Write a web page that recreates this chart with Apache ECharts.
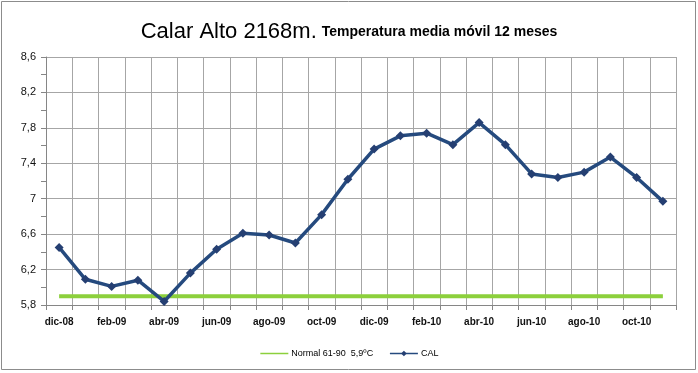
<!DOCTYPE html>
<html><head><meta charset="utf-8">
<script src="https://cdn.jsdelivr.net/npm/echarts@6/dist/echarts.min.js"></script>
<style>html,body{margin:0;padding:0;background:#fff}#c{width:698px;height:373px;}</style>
</head><body><div id="c"></div>
<script>
const categories = ['dic-08','ene-09','feb-09','mar-09','abr-09','may-09','jun-09','jul-09','ago-09','sep-09','oct-09','nov-09','dic-09','ene-10','feb-10','mar-10','abr-10','may-10','jun-10','jul-10','ago-10','sep-10','oct-10','nov-10'];
const calValues = [6.45,6.09,6.01,6.08,5.84,6.16,6.43,6.61,6.59,6.50,6.82,7.22,7.56,7.71,7.74,7.61,7.86,7.61,7.28,7.24,7.30,7.47,7.24,6.97];
const normalValues = categories.map(() => 5.9);
const yMin = 5.8, yMax = 8.6, yStep = 0.4;

const chart = echarts.init(document.getElementById('c'));
const gridColor = '#a6a6a6';
chart.setOption({
  backgroundColor: '#fff',
  animation: false,
  graphic: [{type:'rect', shape:{x:1.5,y:1.5,width:694,height:368}, style:{fill:'none', stroke:'#8c8c8c', lineWidth:1}}],
  title: {
    text: '{a|Calar Alto 2168m.} {b|Temperatura media móvil 12 meses}',
    left: 'center', top: 16,
    textStyle: { rich: {
      a: {fontFamily:'Liberation Sans', fontSize: 22, color:'#000', fontWeight:'normal'},
      b: {fontFamily:'Liberation Sans', fontSize: 14, color:'#000', fontWeight:'bold'}
    }}
  },
  legend: {
    top: 344, left: 'center', itemGap: 16, itemWidth: 28, itemHeight: 7,
    textStyle: {fontFamily:'Liberation Sans', fontSize: 9, color:'#000', padding:[0,0,0,-2]},
    data: [
      {name:'Normal 61-90  5,9ºC', itemStyle:{opacity:0}, lineStyle:{width:1.5}},
      {name:'CAL', lineStyle:{width:1.5}}
    ]
  },
  grid: {left: 46, right: 22, top: 57, bottom: 68},
  xAxis: {
    type: 'category', data: categories, boundaryGap: true,
    axisLine: {lineStyle: {color: '#868686'}},
    axisTick: {show: true, interval: 0, length: 5, lineStyle:{color:'#868686'}},
    splitLine: {show: true, interval: 0, lineStyle: {color: gridColor}},
    axisLabel: {interval: 1, fontFamily:'Liberation Sans', fontSize: 10, fontWeight:'bold', color:'#111', margin: 12}
  },
  yAxis: {
    type: 'value', min: yMin, max: yMax, interval: yStep,
    axisLine: {show: true, lineStyle: {color: '#868686'}},
    axisTick: {show: true, length: 5, lineStyle:{color:'#868686'}},
    minorTick: {show: true, splitNumber: 2, length: 5, lineStyle:{color:'#868686'}},
    splitLine: {show: true, lineStyle: {color: gridColor}},
    axisLabel: {fontFamily:'Liberation Sans', fontSize: 11, color:'#111', margin: 10,
      formatter: v => String(+(+v).toFixed(1)).replace('.', ',')}
  },
  series: [
    {name:'Normal 61-90  5,9ºC', type:'line', data: normalValues, symbol:'none',
     lineStyle:{color:'#8cd03c', width:4}, itemStyle:{color:'#8cd03c'}, z: 2},
    {name:'CAL', type:'line', data: calValues, symbol:'diamond', symbolSize: 9,
     lineStyle:{color:'#254a7e', width:3.5}, itemStyle:{color:'#253f72'}, z: 3}
  ]
});
</script></body></html>
